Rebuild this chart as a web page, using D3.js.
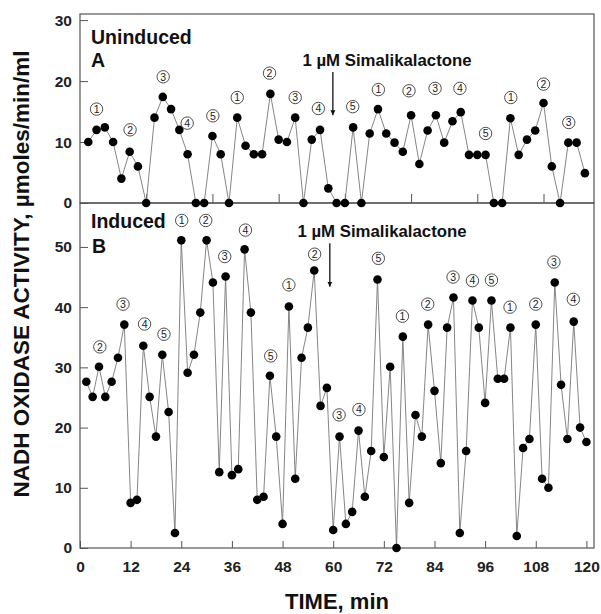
<!DOCTYPE html>
<html>
<head>
<meta charset="utf-8">
<script src="https://cdn.jsdelivr.net/npm/d3@7"></script>
<style>
  body { margin: 0; background: #fff; }
  text { font-family: "Liberation Sans", Arial, sans-serif; }
</style>
</head>
<body>
<div id="chart"></div>
<script>
// DATA
// Panel A (uninduced): one reading every 2 min
const TOP_STEP = 2;
const topActivity = [
  10, 12, 12.4, 10, 4, 8.4, 6, 0, 14, 17.4, 15.4, 12, 8, 0, 0, 11, 8, 0, 14, 9.4,
  8, 8, 17.9, 10.4, 10, 14, 0, 10.4, 12, 2.4, 0, 0, 12.4, 0, 11.4, 15.4, 11.4, 9.9, 8.4, 14.4,
  6.4, 11.9, 14.4, 9.9, 13.4, 14.9, 7.9, 7.9, 7.9, 0, 0, 13.9, 7.9, 10.4, 11.9, 16.4, 6, 0, 9.9, 9.9,
  4.9
];
// Panel B (induced): one reading every 1.5 min
const BOTTOM_STEP = 1.5;
const bottomActivity = [
  27.6, 25.1, 30.1, 25.1, 27.6, 31.6, 37.1, 7.5, 8.0, 33.6, 25.1, 18.5, 32.1, 22.6, 2.5, 51.1,
  29.1, 32.1, 39.1, 51.1, 44.1, 12.6, 45.1, 12.1, 13.1, 49.6, 39.1, 8.0, 8.5, 28.6, 18.5, 4.0,
  40.1, 11.5, 31.6, 36.6, 46.1, 23.6, 26.6, 3.0, 18.5, 4.0, 6.0, 19.5, 8.5, 16.1, 44.6, 15.1,
  30.1, 0, 35.1, 7.5, 22.1, 18.5, 37.1, 26.1, 14.1, 36.6, 41.6, 2.5, 16.1, 41.1, 36.6, 24.1,
  41.1, 28.1, 28.1, 36.6, 2.0, 16.6, 18.1, 37.1, 11.5, 10.0, 44.1, 27.1, 18.1, 37.6, 20.0, 17.6
];

const topYTicks = [0, 10, 20, 30];
const bottomYTicks = [0, 10, 20, 30, 40, 50];
const bottomXTicks = [0, 12, 24, 36, 48, 60, 72, 84, 96, 108, 120];
const topXTicks = [16, 32, 48, 64, 80, 96, 112];

// circled period markers: [time, activity, number]
const topMarkers = [
  [4.0, 15.4, 1], [12.1, 12.0, 2], [20.1, 20.7, 3], [25.9, 13.1, 4], [32.1, 14.3, 5],
  [38.0, 17.3, 1], [45.8, 21.3, 2], [52.0, 17.3, 3], [57.6, 15.5, 4], [65.9, 15.8, 5],
  [72.1, 18.6, 1], [79.5, 18.4, 2], [85.8, 18.8, 3], [91.8, 18.8, 4], [98.0, 11.4, 5],
  [104.1, 17.3, 1], [112.0, 19.5, 2], [118.1, 13.2, 3]
];
const bottomMarkers = [
  [4.7, 33.4, 2], [10.2, 40.5, 3], [15.3, 37.2, 4], [19.9, 35.5, 5], [24.1, 54.4, 1],
  [29.8, 54.4, 2], [34.3, 48.4, 3], [39.2, 52.8, 4], [45.2, 31.9, 5], [49.5, 43.7, 1],
  [55.6, 48.8, 2], [61.4, 22.1, 3], [66.1, 23.0, 4], [70.7, 48.1, 5], [76.4, 38.5, 1],
  [82.4, 40.5, 2], [88.4, 45.0, 3], [93.0, 44.4, 4], [97.5, 44.5, 5], [101.9, 40.0, 1],
  [108.0, 40.5, 2], [112.3, 47.5, 3], [116.9, 41.3, 4]
];

const WIDTH = 601, HEIGHT = 614;
const LEFT = 80, RIGHT = 594, TOP = 14, MID = 203, BOTTOM = 548;

const svg = d3.select("#chart").append("svg")
  .attr("width", WIDTH)
  .attr("height", HEIGHT);

svg.append("defs").append("marker")
  .attr("id", "arrow")
  .attr("viewBox", "0 0 10 10")
  .attr("refX", 10).attr("refY", 5)
  .attr("markerWidth", 5).attr("markerHeight", 6)
  .attr("markerUnits", "userSpaceOnUse")
  .attr("orient", "auto")
  .append("path")
  .attr("d", "M0,0L10,5L0,10Z")
  .attr("fill", "#111");

// SCALES
const xTop = d3.scaleLinear().domain([0, 124.2]).range([LEFT, RIGHT]);
const yTop = d3.scaleLinear().domain([0, 31]).range([MID, TOP]);
const xBot = d3.scaleLinear().domain([0, 121.8]).range([LEFT, RIGHT]);
const yBot = d3.scaleLinear().domain([0, 57.3]).range([BOTTOM, MID]);

const topData = topActivity.map((v, i) => ({ t: (i + 1) * TOP_STEP, v: v }));
const bottomData = bottomActivity.map((v, i) => ({ t: (i + 1) * BOTTOM_STEP, v: v }));

// AXES
function styleAxis(g) {
  g.select(".domain").remove();
  g.selectAll(".tick line").attr("stroke", "#555").attr("stroke-width", 1);
  g.selectAll(".tick text")
    .attr("font-size", "15.5px")
    .attr("font-weight", "bold")
    .attr("fill", "#222");
}

svg.append("g")
  .attr("transform", `translate(${LEFT},0)`)
  .call(d3.axisLeft(yTop).tickValues(topYTicks).tickSizeInner(-8).tickSizeOuter(0).tickPadding(8))
  .call(styleAxis);

svg.append("g")
  .attr("transform", `translate(${LEFT},0)`)
  .call(d3.axisLeft(yBot).tickValues(bottomYTicks).tickSizeInner(-8).tickSizeOuter(0).tickPadding(8))
  .call(styleAxis);

svg.append("g")
  .attr("transform", `translate(0,${MID})`)
  .call(d3.axisBottom(xTop).tickValues(topXTicks).tickSizeInner(-9).tickSizeOuter(0).tickFormat(""))
  .call(styleAxis);

svg.append("g")
  .attr("transform", `translate(0,${BOTTOM})`)
  .call(d3.axisBottom(xBot).tickValues(bottomXTicks).tickSizeInner(-7).tickSizeOuter(0).tickPadding(13))
  .call(styleAxis);

// FRAMES
[[TOP, MID], [MID, BOTTOM]].forEach(([y0, y1]) => {
  svg.append("rect")
    .attr("x", LEFT).attr("y", y0)
    .attr("width", RIGHT - LEFT).attr("height", y1 - y0)
    .attr("fill", "none")
    .attr("stroke", "#555")
    .attr("stroke-width", 1.2);
});

// SERIES
function drawSeries(data, x, y) {
  svg.append("path")
    .datum(data)
    .attr("fill", "none")
    .attr("stroke", "#777")
    .attr("stroke-width", 0.9)
    .attr("d", d3.line().x((d) => x(d.t)).y((d) => y(d.v)));
  svg.append("g")
    .selectAll("circle")
    .data(data)
    .join("circle")
    .attr("cx", (d) => x(d.t))
    .attr("cy", (d) => y(d.v))
    .attr("r", 4.3)
    .attr("fill", "#000");
}
drawSeries(topData, xTop, yTop);
drawSeries(bottomData, xBot, yBot);

// MARKERS (circled numbers)
function drawMarkers(markers, x, y) {
  const g = svg.append("g")
    .selectAll("g")
    .data(markers)
    .join("g")
    .attr("transform", (d) => `translate(${x(d[0])}, ${y(d[1])})`);
  g.append("circle")
    .attr("r", 6.2)
    .attr("fill", "#fff")
    .attr("stroke", "#222")
    .attr("stroke-width", 0.8);
  g.append("text")
    .attr("text-anchor", "middle")
    .attr("dy", "0.36em")
    .attr("font-size", "10.5px")
    .attr("fill", "#222")
    .text((d) => d[2]);
}
drawMarkers(topMarkers, xTop, yTop);
drawMarkers(bottomMarkers, xBot, yBot);

// ANNOTATIONS
function boldText(x, y, size, str, anchor) {
  return svg.append("text")
    .attr("x", x).attr("y", y)
    .attr("font-size", size)
    .attr("font-weight", "bold")
    .attr("text-anchor", anchor || "start")
    .attr("fill", "#111")
    .text(str);
}
boldText(91, 44, "19.5px", "Uninduced");
boldText(91, 67, "19.5px", "A");
boldText(91, 228, "19.5px", "Induced");
boldText(92, 253, "19.5px", "B");

boldText(387, 66, "16.8px", "1 µM Simalikalactone", "middle");
svg.append("line")
  .attr("x1", xTop(61.1)).attr("x2", xTop(61.1))
  .attr("y1", yTop(21.5)).attr("y2", yTop(14.4))
  .attr("stroke", "#111").attr("stroke-width", 1.3)
  .attr("marker-end", "url(#arrow)");

boldText(382, 237, "16.8px", "1 µM Simalikalactone", "middle");
svg.append("line")
  .attr("x1", xBot(59.2)).attr("x2", xBot(59.2))
  .attr("y1", yBot(50.6)).attr("y2", yBot(43.4))
  .attr("stroke", "#111").attr("stroke-width", 1.3)
  .attr("marker-end", "url(#arrow)");

// AXIS TITLES
boldText(337, 609, "22px", "TIME, min", "middle");
boldText(0, 0, "22.5px", "NADH OXIDASE ACTIVITY, µmoles/min/ml", "middle")
  .attr("transform", `translate(29, 274) rotate(-90)`);
</script>
</body>
</html>
